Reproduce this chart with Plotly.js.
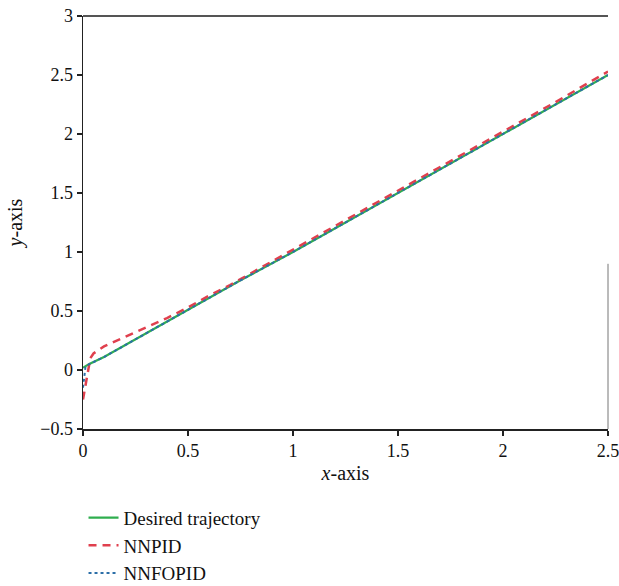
<!DOCTYPE html>
<html>
<head>
<meta charset="utf-8">
<script src="https://cdn.plot.ly/plotly-3.0.1.min.js"></script>
<style>html,body{margin:0;padding:0;background:#fff;}</style>
</head>
<body>
<div id="chart" style="width:619px;height:586px;"></div>
<script>
// Desired trajectory
const desiredX = [0, 0.01, 0.03, 0.1, 0.3, 0.5, 0.75, 1.0, 1.25, 1.5, 1.75, 2.0, 2.25, 2.5];
const desiredY = [0.02, 0.03, 0.05, 0.11, 0.31, 0.51, 0.76, 1.0, 1.25, 1.5, 1.75, 2.0, 2.25, 2.5];
// NNPID
const nnpidX = [0, 0.005, 0.015, 0.025, 0.035, 0.05, 0.1, 0.15, 0.2, 0.3, 0.4, 0.5, 0.6, 0.7, 0.8, 1.0, 1.25, 1.5, 1.75, 2.0, 2.25, 2.5];
const nnpidY = [-0.25, -0.2, -0.08, 0.03, 0.1, 0.14, 0.2, 0.24, 0.28, 0.36, 0.44, 0.53, 0.63, 0.72, 0.82, 1.02, 1.27, 1.52, 1.77, 2.02, 2.27, 2.53];
// NNFOPID
const nnfopidX = [0, 0.004, 0.008, 0.012, 0.02, 0.03, 0.1, 0.3, 0.5, 0.75, 1.0, 1.25, 1.5, 1.75, 2.0, 2.25, 2.5];
const nnfopidY = [-0.15, -0.08, 0.0, 0.03, 0.04, 0.05, 0.11, 0.31, 0.51, 0.76, 1.0, 1.25, 1.5, 1.75, 2.0, 2.25, 2.5];

const xTicks = [0, 0.5, 1, 1.5, 2, 2.5];
const xTickText = ['0', '0.5', '1', '1.5', '2', '2.5'];
const yTicks = [-0.5, 0, 0.5, 1, 1.5, 2, 2.5, 3];
const yTickText = ['\u22120.5', '0', '0.5', '1', '1.5', '2', '2.5', '3'];

const serif = 'Liberation Serif, DejaVu Serif, serif';

const traces = [
  {x: desiredX, y: desiredY, mode: 'lines', name: 'Desired trajectory',
   line: {color: '#2fae4f', width: 2.2}},
  {x: nnpidX, y: nnpidY, mode: 'lines', name: 'NNPID',
   line: {color: '#e0404e', width: 2.5, dash: '8px,6px'}},
  {x: nnfopidX, y: nnfopidY, mode: 'lines', name: 'NNFOPID',
   line: {color: '#2c6fa8', width: 2, dash: 'dot'}}
];

const layout = {
  width: 619, height: 586,
  margin: {l: 83, r: 11, t: 16, b: 157},
  paper_bgcolor: '#fff', plot_bgcolor: '#fff',
  font: {family: serif, size: 18, color: '#111'},
  showlegend: true,
  legend: {x: 0.001, xanchor: 'left', xref: 'paper', y: 0.149, yanchor: 'top', yref: 'container',
    orientation: 'v', tracegroupgap: 0,
    font: {family: serif, size: 19, color: '#111'}, bgcolor: 'rgba(0,0,0,0)'},
  xaxis: {
    range: [0, 2.5], tickvals: xTicks, ticktext: xTickText, ticklabeloverflow: 'allow',
    showgrid: false, zeroline: false, showline: true, linecolor: '#222', linewidth: 1.5,
    ticks: 'outside', ticklen: 5, tickwidth: 1.5, tickcolor: '#222',
    title: {text: '<i>x</i>-axis', font: {family: serif, size: 20}, standoff: 6}
  },
  yaxis: {
    range: [-0.5, 3], tickvals: yTicks, ticktext: yTickText,
    showgrid: false, zeroline: false, showline: true, linecolor: '#222', linewidth: 1.5,
    ticks: 'outside', ticklen: 5, tickwidth: 1.5, tickcolor: '#222',
    title: {text: '<i>y</i>-axis', font: {family: serif, size: 20}, standoff: 12}
  },
  shapes: [
    {type: 'line', xref: 'paper', yref: 'paper', x0: 0, x1: 1, y0: 1, y1: 1,
     line: {color: '#555', width: 2}},
    {type: 'line', xref: 'paper', yref: 'y', x0: 1, x1: 1, y0: -0.5, y1: 0.9,
     line: {color: '#777', width: 1}}
  ]
};

Plotly.newPlot('chart', traces, layout, {displayModeBar: false, staticPlot: true});
</script>
</body>
</html>
